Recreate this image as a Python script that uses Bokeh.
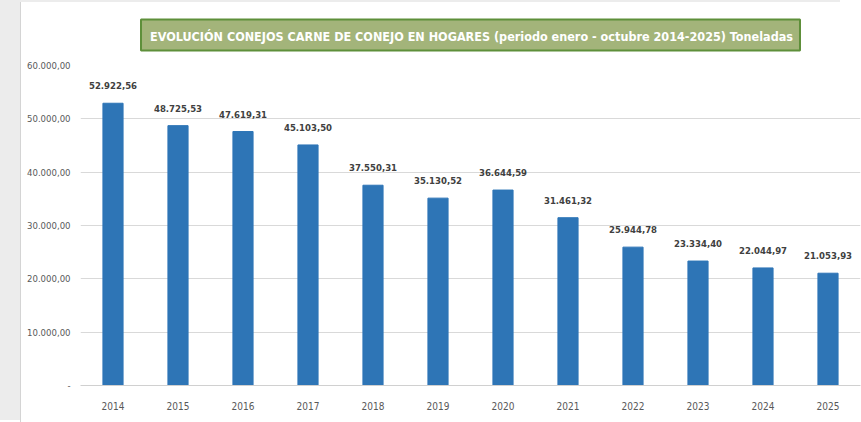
from bokeh.plotting import figure
from bokeh.models import ColumnDataSource, FixedTicker, LabelSet, Title
from bokeh.core.properties import value
from bokeh.embed import file_html
from bokeh.resources import INLINE

years = ["2014", "2015", "2016", "2017", "2018", "2019", "2020", "2021", "2022", "2023", "2024", "2025"]
toneladas = [52922.56, 48725.53, 47619.31, 45103.50, 37550.31, 35130.52,
             36644.59, 31461.32, 25944.78, 23334.40, 22044.97, 21053.93]
y_ticks = [0, 10000, 20000, 30000, 40000, 50000, 60000]
y_tick_labels = ["-", "10.000,00", "20.000,00", "30.000,00", "40.000,00", "50.000,00", "60.000,00"]
title_text = "EVOLUCIÓN CONEJOS CARNE DE CONEJO EN HOGARES (periodo enero - octubre 2014-2025) Toneladas"


def es_fmt(v):
    s = f"{v:,.2f}"
    return s.replace(",", "X").replace(".", ",").replace("X", ".")


labels = [es_fmt(v) for v in toneladas]
src = ColumnDataSource(dict(year=years, val=toneladas, lab=labels))

FONT = "DejaVu Sans Condensed"

STRIP = 21
TOPLINE = 2
p = figure(x_range=years, y_range=(0, 60000), width=861 - STRIP, height=422 - TOPLINE,
           output_backend="svg", toolbar_location=None,
           min_border_left=80 - STRIP, min_border_right=1,
           min_border_top=65 - TOPLINE, min_border_bottom=37)
p.styles = {"margin-left": f"{STRIP}px", "margin-top": f"{TOPLINE}px",
            "box-shadow": f"-1px 0 0 0 #d4d4d4, -{STRIP}px -{TOPLINE}px 0 0 #ececec"}
p.outline_line_color = None
p.background_fill_color = "white"
p.border_fill_color = "white"

p.vbar(x="year", top="val", width=0.31, source=src, color="#2e75b6")

p.add_layout(LabelSet(x="year", y="val", text="lab", source=src,
                      text_align="center", text_baseline="bottom", y_offset=14,
                      text_font=value(FONT), text_font_style="bold",
                      text_font_size="9.5px", text_color="#404040"))

p.yaxis.ticker = FixedTicker(ticks=y_ticks)
p.yaxis.major_label_overrides = {t: l for t, l in zip(y_ticks, y_tick_labels)}
p.yaxis.axis_line_color = None
p.yaxis.major_tick_line_color = None
p.yaxis.minor_tick_line_color = None
p.yaxis.major_label_text_font = FONT
p.yaxis.major_label_text_font_size = "9.5px"
p.yaxis.major_label_text_color = "#595959"
p.yaxis.major_label_standoff = 4

p.xaxis.axis_line_color = "#d0d0d0"
p.xaxis.major_tick_line_color = None
p.xaxis.minor_tick_line_color = None
p.xaxis.major_label_text_font = FONT
p.xaxis.major_label_text_font_size = "10px"
p.xaxis.major_label_text_color = "#595959"
p.xaxis.major_label_standoff = 10

p.xgrid.grid_line_color = None
p.ygrid.grid_line_color = "#d9d9d9"
p.ygrid.grid_line_width = 1

p.add_layout(Title(text=title_text, align="center", offset=-13, standoff=30,
                   text_font=FONT, text_font_style="bold", text_font_size="12.5px",
                   text_color="white", background_fill_color="#a3b47a",
                   border_line_color="#5e8f3a", border_line_width=2,
                   padding=(9, 7, 9, 7)), "above")

open("out.html", "w").write(file_html(p, INLINE))
